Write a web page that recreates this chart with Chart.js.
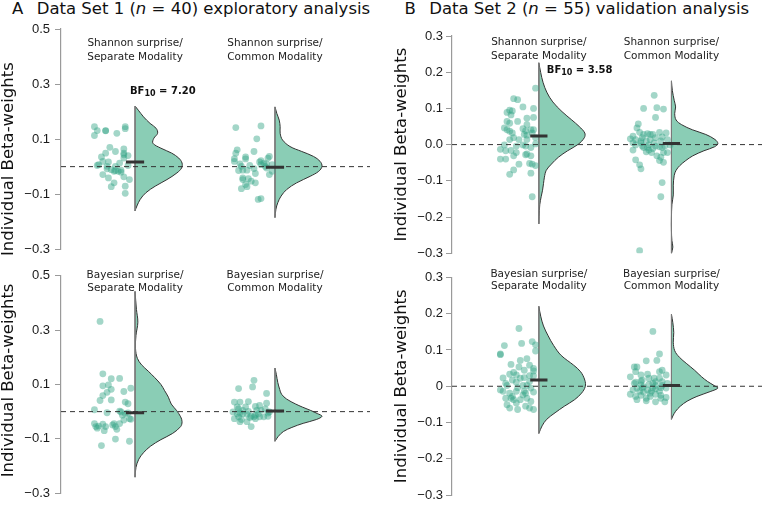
<!DOCTYPE html>
<html>
<head>
<meta charset="utf-8">
<script src="https://cdn.jsdelivr.net/npm/chart.js@4.4.0/dist/chart.umd.min.js"></script>
<style>
  body { margin: 0; background: #fff; }
  #wrap { position: relative; width: 766px; height: 506px; overflow: hidden; font-family: "DejaVu Sans", Verdana, sans-serif; }
  canvas { position: absolute; }
  .title { position: absolute; top: -1px; font-size: 16.5px; line-height: 20px; color: #111; white-space: nowrap; }
  .title span { display: inline-block; width: 24.7px; }
</style>
</head>
<body>
<div id="wrap">
  <div class="title" style="left:12px"><span>A</span>Data Set 1 (<i>n</i> = 40) exploratory analysis</div>
  <div class="title" style="left:404.5px"><span>B</span>Data Set 2 (<i>n</i> = 55) validation analysis</div>
  <canvas id="pA1" width="383" height="262" style="left:0;top:0"></canvas>
  <canvas id="pA2" width="383" height="244" style="left:0;top:262px"></canvas>
  <canvas id="pB1" width="383" height="264" style="left:383px;top:0"></canvas>
  <canvas id="pB2" width="383" height="242" style="left:383px;top:264px"></canvas>
</div>
<script>
// ---- data ----
const ticksA = [-0.3, -0.1, 0.1, 0.3, 0.5];
const tickLabelsA = ['\u22120.3', '\u22120.1', '0.1', '0.3', '0.5'];
const ticksB = [-0.3, -0.2, -0.1, 0, 0.1, 0.2, 0.3];
const tickLabelsBTop = ['\u22120.3', '\u22120.2', '\u22120.1', '0.0', '0.1', '0.2', '0.3'];
const tickLabelsBBottom = ['\u22120.3', '\u22120.2', '\u22120.1', '0', '0.1', '0.2', '0.3'];

const groupsTop = [['Shannon surprise/', 'Separate Modality'], ['Shannon surprise/', 'Common Modality']];
const groupsBottom = [['Bayesian surprise/', 'Separate Modality'], ['Bayesian surprise/', 'Common Modality']];
const yTitle = 'Individual Beta-weights';

const bfA = '7.20';
const bfB = '3.58';

const mediansA1 = [0.017, -0.002];
const mediansA2 = [-0.004, 0.002];
const mediansB1 = [0.024, 0.003];
const mediansB2 = [0.017, 0.002];

// individual points: [jitter, beta]
const ptsA1 = [[-0.29,0.145],[-0.27,0.131],[-0.29,0.113],[-0.21,0.130],[-0.21,0.131],[-0.13,0.121],[-0.07,0.145],[-0.07,0.138],
  [-0.18,0.070],[-0.21,0.049],[-0.24,0.035],[-0.14,0.055],[-0.08,0.064],[-0.08,0.049],[-0.08,0.043],[-0.05,0.040],[-0.08,0.031],
  [-0.23,0.019],[-0.19,0.017],[-0.11,0.013],[-0.26,0.007],[-0.27,0.004],[-0.20,0.001],[-0.14,0.001],[-0.05,0.004],
  [-0.17,-0.011],[-0.15,-0.017],[-0.14,-0.014],[-0.12,-0.017],[-0.10,-0.020],[-0.23,-0.029],[-0.19,-0.041],[-0.08,-0.037],[-0.04,-0.047],
  [-0.17,-0.073],[-0.15,-0.059],[-0.07,-0.071],[-0.07,-0.097],[-0.10,-0.013],[-0.20,-0.008]];
const ptsA2 = [[-0.28,0.142],[-0.10,0.148],[-0.13,0.101],[-0.27,0.061],[-0.28,0.049],[-0.15,0.055],[-0.29,0.029],[-0.21,0.035],[-0.21,0.028],
  [-0.04,0.037],[-0.05,0.031],[-0.10,0.022],[-0.08,0.013],[-0.25,0.010],[-0.24,0.001],[-0.18,0.004],[-0.10,0.007],[-0.06,0.010],[-0.02,0.007],
  [-0.23,-0.013],[-0.20,-0.013],[-0.15,-0.007],[-0.14,-0.025],[-0.04,-0.029],[-0.02,-0.017],[-0.23,-0.041],[-0.19,-0.044],[-0.17,-0.053],
  [-0.21,-0.065],[-0.20,-0.073],[-0.24,-0.080],[-0.12,-0.119],[-0.10,-0.116],[-0.07,0.001],[-0.11,0.017],[-0.26,-0.014],[-0.23,-0.047],
  [-0.14,-0.059],[-0.29,0.019],[-0.06,-0.005]];
const ptsA3 = [[-0.25,0.332],[-0.23,0.139],[-0.17,0.121],[-0.11,0.122],[-0.23,0.095],[-0.19,0.098],[-0.17,0.082],[-0.20,0.071],[-0.08,0.074],
  [-0.03,0.086],[-0.25,0.041],[-0.17,0.043],[-0.23,0.059],[-0.07,0.035],[-0.05,0.029],[-0.29,0.007],[-0.20,-0.004],[-0.11,0.002],[-0.09,-0.013],
  [-0.07,-0.007],[-0.04,-0.026],[-0.03,-0.028],[-0.29,-0.044],[-0.28,-0.055],[-0.26,-0.053],[-0.23,-0.046],[-0.21,-0.055],[-0.22,-0.070],
  [-0.15,-0.044],[-0.14,-0.055],[-0.13,-0.065],[-0.11,-0.044],[-0.08,-0.031],[-0.14,-0.101],[-0.04,-0.109],[-0.24,-0.125],[-0.27,-0.061],
  [-0.10,-0.001],[-0.16,-0.049],[-0.05,-0.005]];
const ptsA4 = [[-0.15,0.115],[-0.26,0.085],[-0.16,0.091],[-0.06,0.067],[-0.29,0.035],[-0.25,0.035],[-0.19,0.037],[-0.27,0.017],[-0.26,0.010],
  [-0.21,0.017],[-0.14,0.019],[-0.11,0.023],[-0.06,0.031],[-0.30,-0.001],[-0.25,-0.005],[-0.23,0.005],[-0.20,-0.010],[-0.17,-0.017],[-0.15,-0.019],
  [-0.14,-0.013],[-0.12,-0.008],[-0.10,0.005],[-0.07,0.010],[-0.05,-0.005],[-0.04,-0.001],[-0.29,-0.026],[-0.26,-0.019],[-0.24,-0.029],
  [-0.20,-0.037],[-0.18,-0.022],[-0.17,-0.055],[-0.08,-0.019],[-0.05,-0.017],[-0.23,-0.008],[-0.19,0.001],[-0.13,0.005],[-0.11,-0.019],
  [-0.25,-0.037],[-0.27,-0.008],[-0.14,-0.026]];
const ptsB1 = [[-0.025,0.156],[-0.19,0.127],[-0.16,0.124],[-0.12,0.104],[-0.04,0.100],[-0.22,0.095],[-0.24,0.089],[-0.20,0.093],[-0.21,0.082],
  [-0.09,0.073],[-0.04,0.075],[-0.24,0.064],[-0.22,0.059],[-0.16,0.064],[-0.09,0.055],[-0.26,0.046],[-0.24,0.041],[-0.22,0.037],[-0.12,0.044],
  [-0.10,0.038],[-0.06,0.041],[-0.05,0.032],[-0.04,0.041],[-0.09,0.026],[-0.22,0.014],[-0.19,0.019],[-0.15,0.014],[-0.09,0.014],[-0.025,0.019],
  [-0.26,-0.001],[-0.29,-0.013],[-0.25,-0.017],[-0.21,-0.016],[-0.17,-0.022],[-0.10,-0.004],[-0.06,-0.008],[-0.19,-0.031],[-0.10,-0.028],
  [-0.09,-0.026],[-0.06,-0.031],[-0.29,-0.040],[-0.25,-0.040],[-0.15,-0.054],[-0.07,-0.052],[-0.05,-0.054],[-0.025,-0.058],[-0.19,-0.070],
  [-0.22,-0.082],[-0.06,-0.079],[-0.05,-0.144],[-0.12,-0.001],[-0.17,-0.004],[-0.20,0.032],[-0.11,0.028],[-0.025,0.002]];
const ptsB2 = [[-0.13,0.136],[-0.21,0.100],[-0.11,0.102],[-0.06,0.098],[-0.12,0.075],[-0.25,0.057],[-0.26,0.046],[-0.24,0.034],[-0.29,0.023],
  [-0.21,0.028],[-0.18,0.030],[-0.14,0.028],[-0.09,0.034],[-0.04,0.032],[-0.31,0.016],[-0.27,0.014],[-0.23,0.010],[-0.19,0.010],[-0.16,0.014],
  [-0.12,0.019],[-0.07,0.021],[-0.03,0.014],[-0.27,-0.001],[-0.22,-0.004],[-0.18,-0.008],[-0.17,-0.015],[-0.14,-0.011],[-0.12,-0.004],
  [-0.09,-0.006],[-0.07,-0.008],[-0.29,-0.015],[-0.19,-0.020],[-0.06,-0.022],[-0.03,-0.022],[-0.11,-0.031],[-0.08,-0.035],[-0.27,-0.042],
  [-0.24,-0.056],[-0.23,-0.067],[-0.06,-0.049],[-0.07,-0.105],[-0.08,-0.144],[-0.24,-0.293],[-0.22,0.019],[-0.17,-0.001],[-0.13,0.005],
  [-0.29,0.005],[-0.01,-0.001],[-0.08,0.010],[-0.21,-0.008],[-0.15,-0.022],[-0.09,-0.044],[-0.23,0.005],[-0.05,-0.004],[-0.16,0.028]];
const ptsB3 = [[-0.15,0.159],[-0.26,0.112],[-0.13,0.118],[-0.05,0.123],[-0.025,0.114],[-0.025,0.097],[-0.29,0.089],[-0.29,0.087],[-0.21,0.060],
  [-0.14,0.071],[-0.09,0.076],[-0.07,0.058],[-0.04,0.049],[-0.04,0.042],[-0.15,0.053],[-0.11,0.044],[-0.22,0.033],[-0.19,0.038],[-0.17,0.031],
  [-0.27,0.023],[-0.20,0.017],[-0.14,0.022],[-0.11,0.024],[-0.07,0.029],[-0.04,0.029],[-0.25,0.008],[-0.24,0.002],[-0.16,-0.004],[-0.12,0.002],
  [-0.09,0.002],[-0.06,-0.005],[-0.29,-0.010],[-0.27,-0.014],[-0.22,-0.019],[-0.17,-0.014],[-0.11,-0.014],[-0.10,-0.019],[-0.04,-0.016],
  [-0.21,-0.033],[-0.19,-0.037],[-0.17,-0.046],[-0.14,-0.037],[-0.09,-0.033],[-0.06,-0.042],[-0.24,-0.051],[-0.22,-0.060],[-0.16,-0.064],
  [-0.10,-0.055],[-0.07,-0.060],[-0.04,-0.064],[-0.20,-0.028],[-0.12,-0.024],[-0.25,-0.033],[-0.07,0.013],[-0.17,0.011]];
const ptsB4 = [[-0.14,0.151],[-0.09,0.089],[-0.28,0.053],[-0.26,0.053],[-0.19,0.070],[-0.11,0.071],[-0.27,0.040],[-0.09,0.040],[-0.07,0.044],
  [-0.31,0.026],[-0.23,0.031],[-0.18,0.033],[-0.13,0.022],[-0.09,0.022],[-0.04,0.031],[-0.03,0.008],[-0.27,0.011],[-0.23,0.004],[-0.21,-0.001],
  [-0.17,0.005],[-0.14,0.008],[-0.12,0.002],[-0.07,0.002],[-0.29,-0.010],[-0.26,-0.005],[-0.22,-0.005],[-0.18,-0.010],[-0.15,-0.013],
  [-0.12,-0.007],[-0.08,-0.004],[-0.04,-0.005],[-0.31,-0.022],[-0.27,-0.028],[-0.23,-0.025],[-0.19,-0.033],[-0.16,-0.028],[-0.12,-0.022],
  [-0.08,-0.025],[-0.04,-0.031],[-0.26,-0.037],[-0.19,-0.040],[-0.12,-0.043],[-0.05,-0.043],[-0.23,0.014],[-0.17,0.022],[-0.12,0.013],
  [-0.21,-0.016],[-0.09,-0.014],[-0.28,0.008],[-0.14,-0.004],[-0.07,0.013],[-0.24,-0.014],[-0.16,-0.019],[-0.08,-0.033],[-0.22,0.017]];

// half-violin density profiles: [beta, relative density]
const violA1 = [[0.220,0],[0.205,0.07],[0.181,0.18],[0.157,0.32],[0.139,0.45],[0.121,0.48],[0.103,0.40],[0.085,0.38],[0.067,0.55],
  [0.049,0.78],[0.031,0.93],[0.013,1.0],[-0.005,0.99],[-0.023,0.89],[-0.047,0.68],[-0.071,0.43],[-0.095,0.23],[-0.119,0.11],[-0.143,0.04],[-0.161,0]];
const violA2 = [[0.217,0],[0.193,0.04],[0.169,0.09],[0.145,0.11],[0.121,0.11],[0.097,0.16],[0.073,0.32],[0.055,0.57],[0.037,0.82],
  [0.019,0.96],[0.001,1.0],[-0.017,0.93],[-0.035,0.75],[-0.059,0.46],[-0.083,0.25],[-0.107,0.13],[-0.131,0.06],[-0.155,0.02],[-0.185,0]];
const violA3 = [[0.442,0],[0.376,0.03],[0.329,0.06],[0.280,0.02],[0.232,0.01],[0.196,0.05],[0.172,0.14],[0.149,0.28],[0.125,0.42],
  [0.100,0.55],[0.077,0.63],[0.053,0.71],[0.028,0.77],[0.005,0.88],[-0.019,0.97],[-0.037,1.0],[-0.055,0.97],[-0.080,0.80],[-0.103,0.55],
  [-0.127,0.33],[-0.151,0.18],[-0.175,0.08],[-0.205,0.02],[-0.241,0]];
const violA4 = [[0.160,0],[0.136,0.03],[0.107,0.06],[0.082,0.10],[0.064,0.14],[0.046,0.25],[0.028,0.44],[0.017,0.58],[0.005,0.75],
  [-0.007,0.90],[-0.017,1.0],[-0.029,0.88],[-0.043,0.60],[-0.058,0.36],[-0.073,0.18],[-0.091,0.07],[-0.109,0]];
const violB1 = [[0.226,0],[0.199,0.04],[0.172,0.09],[0.145,0.17],[0.118,0.30],[0.091,0.50],[0.068,0.71],[0.050,0.87],[0.032,0.99],
  [0.019,0.98],[0.001,0.85],[-0.017,0.62],[-0.035,0.42],[-0.054,0.27],[-0.071,0.16],[-0.090,0.12],[-0.108,0.10],[-0.126,0.08],
  [-0.144,0.05],[-0.166,0.02],[-0.198,0.005],[-0.219,0]];
const violB2 = [[0.176,0],[0.149,0.02],[0.122,0.06],[0.104,0.09],[0.086,0.07],[0.068,0.10],[0.055,0.22],[0.041,0.45],[0.028,0.74],
  [0.014,0.94],[0.003,1.0],[-0.006,0.93],[-0.017,0.70],[-0.031,0.46],[-0.044,0.31],[-0.058,0.18],[-0.071,0.10],[-0.085,0.06],
  [-0.112,0.04],[-0.139,0.04],[-0.166,0.01],[-0.202,0],[-0.238,0],[-0.265,0.01],[-0.283,0.03],[-0.301,0]];
const violB3 = [[0.220,0],[0.193,0.04],[0.166,0.10],[0.139,0.20],[0.112,0.32],[0.085,0.48],[0.058,0.75],[0.040,0.90],[0.017,0.99],
  [-0.001,1.0],[-0.019,0.92],[-0.037,0.77],[-0.055,0.55],[-0.073,0.35],[-0.091,0.17],[-0.109,0.07],[-0.130,0]];
const violB4 = [[0.198,0],[0.175,0.03],[0.148,0.05],[0.121,0.04],[0.098,0.07],[0.080,0.17],[0.062,0.33],[0.044,0.50],[0.026,0.65],
  [0.013,0.78],[0.002,0.92],[-0.005,1.0],[-0.014,0.85],[-0.028,0.55],[-0.041,0.34],[-0.055,0.19],[-0.069,0.09],[-0.082,0.03],[-0.091,0]];

const cats = [1, 2];

// ---- styling ----
const PT = 'rgba(52,165,132,0.45)';
const FILL = '#8acdb5';
const DARK = '#333';
const AXIS = '#9a9a9a';

const panelText = {
  id: 'panelText',
  afterDraw(chart, args, o) {
    const ctx = chart.ctx, xs = chart.scales.x, area = chart.chartArea, ys = chart.scales.y;
    ctx.save();
    ctx.fillStyle = '#222';
    ctx.textAlign = 'center';
    ctx.textBaseline = 'middle';
    ctx.font = '10.5px "DejaVu Sans", Verdana, sans-serif';
    o.groups.forEach((lines, i) => {
      lines.forEach((t, j) => ctx.fillText(t, xs.getPixelForValue(cats[i]), area.top + o.labelDy + j * o.lineGap));
    });
    if (o.bf) {
      let x = xs.getPixelForValue(cats[0] + o.bf.dx);
      const y = ys.getPixelForValue(o.bf.y);
      ctx.textAlign = 'left';
      ctx.fillStyle = '#111';
      ctx.font = 'bold 10px "DejaVu Sans", Verdana, sans-serif';
      ctx.fillText('BF', x, y); x += ctx.measureText('BF').width;
      ctx.font = 'bold 8px "DejaVu Sans", Verdana, sans-serif';
      ctx.fillText('10', x, y + 3); x += ctx.measureText('10').width;
      ctx.font = 'bold 10px "DejaVu Sans", Verdana, sans-serif';
      ctx.fillText(' = ' + o.bf.text, x, y);
    }
    ctx.translate(o.titleX, (area.top + area.bottom) / 2 + o.titleDy);
    ctx.rotate(-Math.PI / 2);
    ctx.textAlign = 'center';
    ctx.fillStyle = '#111';
    ctx.font = '16.5px "DejaVu Sans", Verdana, sans-serif';
    ctx.fillText(yTitle, 0, 0);
    ctx.restore();
  }
};

function groupSets(c, pts, prof, med, w) {
  const ys = prof.map(p => p[0]);
  return [
    { data: [{x: c - 0.065, y: med}, {x: c + 0.065, y: med}], borderColor: DARK, borderWidth: 3, pointRadius: 0, order: 0 },
    { data: pts.map(p => ({x: c + p[0], y: p[1]})), showLine: false, pointRadius: 3.4, pointBackgroundColor: PT, pointBorderWidth: 0, order: 2 },
    { data: [{x: c, y: Math.max(...ys)}, {x: c, y: Math.min(...ys)}], borderColor: '#7a7a7a', borderWidth: 1, pointRadius: 0, order: 3 },
    { data: prof.map(p => ({x: c + p[1] * w, y: p[0]})), fill: 'shape', backgroundColor: FILL, borderColor: DARK,
      borderWidth: 1, pointRadius: 0, tension: 0.35, order: 4 }
  ];
}

function makePanel(id, p) {
  const datasets = [
    { data: [{x: p.xmin, y: 0}, {x: p.xmax, y: 0}], borderColor: DARK, borderWidth: 1, borderDash: [5, 4], pointRadius: 0, order: 1 }
  ];
  p.groups.forEach((g, i) => datasets.push(...groupSets(cats[i], g.pts, g.prof, g.med, p.w)));
  new Chart(document.getElementById(id), {
    type: 'line',
    data: { datasets },
    options: {
      responsive: false,
      animation: false,
      layout: { padding: p.pad },
      plugins: {
        legend: { display: false },
        tooltip: { enabled: false },
        panelText: { groups: p.labels, labelDy: p.labelDy, lineGap: p.lineGap, bf: p.bf, titleX: p.titleX, titleDy: p.titleDy }
      },
      scales: {
        x: { type: 'linear', display: false, min: p.xmin, max: p.xmax },
        y: {
          min: p.ticks[0], max: p.ticks[p.ticks.length - 1],
          afterFit: s => { s.width = p.axisW; },
          afterBuildTicks: s => { s.ticks = p.ticks.map(v => ({ value: v })); },
          ticks: {
            callback: (v, i) => p.tickLabels[i],
            font: { family: '"Liberation Sans", Arial, sans-serif', size: 13 },
            color: '#1a1a1a', padding: p.tickPad
          },
          grid: { drawOnChartArea: false, tickLength: 6, color: AXIS },
          border: { color: AXIS, width: 1.2 }
        }
      }
    },
    plugins: [panelText]
  });
}

makePanel('pA1', {
  pad: { left: 0, right: 13, top: 29, bottom: 11 }, axisW: 61, xmin: 0.471, xmax: 2.679, w: 0.336,
  ticks: ticksA, tickLabels: tickLabelsA, tickPad: 5,
  groups: [{ pts: ptsA1, prof: violA1, med: mediansA1[0] }, { pts: ptsA2, prof: violA2, med: mediansA1[1] }],
  labels: groupsTop, labelDy: 14, lineGap: 14, bf: { text: bfA, dx: -0.036, y: 0.274 }, titleX: 9, titleDy: 20
});
makePanel('pA2', {
  pad: { left: 0, right: 13, top: 13.7, bottom: 8 }, axisW: 61, xmin: 0.471, xmax: 2.679, w: 0.336,
  ticks: ticksA, tickLabels: tickLabelsA, tickPad: 5,
  groups: [{ pts: ptsA3, prof: violA3, med: mediansA2[0] }, { pts: ptsA4, prof: violA4, med: mediansA2[1] }],
  labels: groupsBottom, labelDy: -0.7, lineGap: 13, bf: null, titleX: 9, titleDy: -4
});
makePanel('pB1', {
  pad: { left: 0, right: 0, top: 36, bottom: 6.3 }, axisW: 69, xmin: 0.345, xmax: 2.683, w: 0.35,
  ticks: ticksB, tickLabels: tickLabelsBTop, tickPad: 3,
  groups: [{ pts: ptsB1, prof: violB1, med: mediansB1[0] }, { pts: ptsB2, prof: violB2, med: mediansB1[1] }],
  labels: groupsTop, labelDy: 6.7, lineGap: 14, bf: { text: bfB, dx: 0.06, y: 0.205 }, titleX: 18.5, titleDy: 0
});
makePanel('pB2', {
  pad: { left: 0, right: 0, top: 13.3, bottom: 7.3 }, axisW: 69, xmin: 0.345, xmax: 2.683, w: 0.35,
  ticks: ticksB, tickLabels: tickLabelsBBottom, tickPad: 3,
  groups: [{ pts: ptsB3, prof: violB3, med: mediansB2[0] }, { pts: ptsB4, prof: violB4, med: mediansB2[1] }],
  labels: groupsBottom, labelDy: -3.5, lineGap: 12.5, bf: null, titleX: 18.5, titleDy: 0
});
</script>
</body>
</html>
